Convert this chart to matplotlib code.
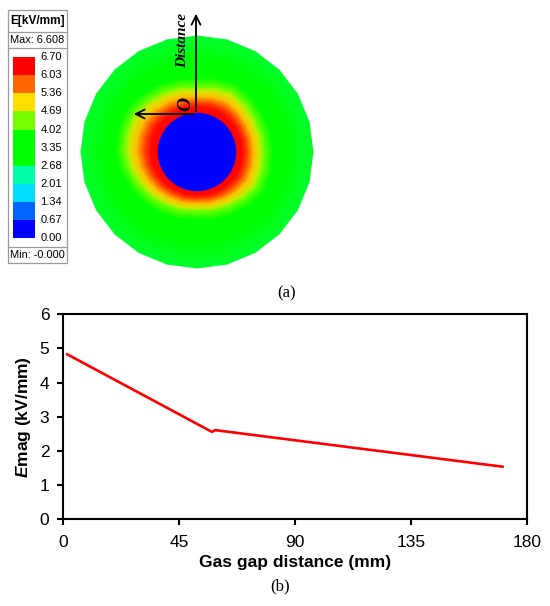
import numpy as np
import matplotlib
matplotlib.use("Agg")
from matplotlib import pyplot as plt
from matplotlib.colors import LinearSegmentedColormap, Normalize
from matplotlib.patches import Rectangle, Circle
import matplotlib.tri as mtri

plt.rcParams['font.family'] = ['Liberation Sans', 'DejaVu Sans']
plt.rcParams['mathtext.fontset'] = 'custom'
plt.rcParams['mathtext.rm'] = 'Liberation Sans:bold'
plt.rcParams['mathtext.bf'] = 'Liberation Sans:bold'
plt.rcParams['mathtext.it'] = 'Liberation Sans:italic:bold'
plt.rcParams['mathtext.bfit'] = 'Liberation Sans:italic:bold'

# ---- data (a): field map ----
level_edges = [0.00, 0.67, 1.34, 2.01, 2.68, 3.35, 4.02, 4.69, 5.36, 6.03, 6.70]
level_colors = ['#0000ff', '#0066ff', '#00ddff', '#00ffaa', '#00ff00',
                '#00ff00', '#77ff00', '#ffdd00', '#ff6600', '#ff0000']
e_max_text = "Max: 6.608"
e_min_text = "Min: -0.000"

# hot zone outer radius (px) by direction, degrees counter-clockwise from +x
hot_angle = [0, 30, 60, 90, 120, 150, 180, 210, 240, 270, 300, 330]
hot_radius = [67, 67, 70, 65, 69, 74, 73, 67, 62, 59, 63, 69]
# field along the radius: inner part scaled to hot radius, outer part absolute
inner_frac = [0.0, 0.25, 0.45, 0.65, 0.85, 1.0]
inner_e = [6.6, 6.3, 5.8, 5.2, 4.8, 4.3]
outer_offset = 9
outer_r = [90, 116]
outer_e = [3.5, 3.1, 2.85]

# ---- data (b): line ----
gap_mm = [1.5, 57.7, 59.0, 170.6]
e_mag = [4.83, 2.56, 2.61, 1.54]

fig = plt.figure(figsize=(5.5, 6.06), dpi=100)

# ---------------- (a) ----------------
ax1 = fig.add_axes([0, 1 - 300 / 606, 1, 300 / 606])
ax1.set_xlim(0, 550)
ax1.set_ylim(300, 0)
ax1.axis('off')

cx, cy, r_in = 197, 152, 38.5
centers = [(level_edges[i] + level_edges[i + 1]) / 2 for i in range(10)]
nodes = [(0.0, level_colors[0])] + [(c / 6.7, col) for c, col in zip(centers, level_colors)] + [(1.0, level_colors[-1])]
cmap = LinearSegmentedColormap.from_list('emag', nodes)
norm = Normalize(0, 6.7)

n_ang = 24
ang = np.arange(n_ang) * 360.0 / n_ang
r_hot = np.interp(ang, hot_angle + [360], hot_radius + [hot_radius[0]])
rings_r = []
rings_e = []
for f, e in zip(inner_frac, inner_e):
    rings_r.append(r_in + f * (r_hot - r_in))
    rings_e.append(e)
rings_r.append(r_hot + outer_offset)
rings_e.append(outer_e[0])
for rr, e in zip(outer_r, outer_e[1:]):
    rings_r.append(np.full(n_ang, float(rr)))
    rings_e.append(e)

px, py, pz = [], [], []
for rr, e in zip(rings_r, rings_e):
    px.extend(cx + rr * np.cos(np.radians(ang)))
    py.extend(cy - rr * np.sin(np.radians(ang)))
    pz.extend([e] * n_ang)
tris = []
for i in range(len(rings_r) - 1):
    for j in range(n_ang):
        a = i * n_ang + j
        b = i * n_ang + (j + 1) % n_ang
        c = (i + 1) * n_ang + j
        d = (i + 1) * n_ang + (j + 1) % n_ang
        tris.append([a, b, d])
        tris.append([a, d, c])
tri = mtri.Triangulation(px, py, tris)
ax1.tripcolor(tri, pz, cmap=cmap, norm=norm, shading='gouraud')
ax1.add_patch(Circle((cx, cy), r_in, color='#0000ff', zorder=3))

# axes arrows
ox, oy = 196, 114
ax1.annotate('', xy=(ox, 11), xytext=(ox, oy),
             arrowprops=dict(arrowstyle='->', lw=1.3, color='black', mutation_scale=16), zorder=5)
ax1.annotate('', xy=(131, oy), xytext=(ox, oy),
             arrowprops=dict(arrowstyle='->', lw=1.3, color='black', mutation_scale=16), zorder=5)
ax1.text(183, 40, 'Distance', rotation=90, ha='center', va='center', fontsize=11,
         family='Liberation Serif', style='italic', weight='bold', zorder=6)
ax1.text(186, 104, 'O', rotation=90, ha='center', va='center', fontsize=14,
         family='Liberation Serif', style='italic', weight='bold', zorder=6)

# legend box
ax1.add_patch(Rectangle((8, 10), 59, 253, fill=False, ec='#9a9a9a', lw=0.9))
for yy in [32, 48, 247]:
    ax1.plot([8, 67], [yy, yy], color='#9a9a9a', lw=0.9)
ax1.text(37.5, 21, 'E[kV/mm]', ha='center', va='center', fontsize=8.6, weight='bold')
ax1.text(37.5, 40, e_max_text, ha='center', va='center', fontsize=7.9)
ax1.text(37.5, 255.5, e_min_text, ha='center', va='center', fontsize=7.9)
y_bot, y_top = 238.3, 57.0
step = (y_bot - y_top) / 10
for i, col in enumerate(level_colors):
    ax1.add_patch(Rectangle((12.7, y_bot - (i + 1) * step), 22.3, step, color=col, lw=0))
for i, v in enumerate(level_edges):
    ax1.text(40.5, y_bot - i * step, '%.2f' % v, ha='left', va='center', fontsize=8)

ax1.text(287, 293, '(a)', ha='center', va='center', fontsize=12, family='Liberation Serif')

# ---------------- (b) ----------------
ax2 = fig.add_axes([63.3 / 550, 1 - 519.3 / 606, 463.4 / 550, 205 / 606])
ax2.plot(gap_mm, e_mag, color='#ff0000', lw=1.9)
ax2.set_xlim(0, 180)
ax2.set_ylim(0, 6)
ax2.set_xticks([0, 45, 90, 135, 180])
ax2.set_yticks([0, 1, 2, 3, 4, 5, 6])
for s in ax2.spines.values():
    s.set_linewidth(1.5)
ax2.tick_params(direction='out', length=4, width=1.5, labelsize=12.5)
ax2.tick_params(axis='x', pad=7)
ax2.tick_params(axis='y', pad=6)
ax2.set_xlabel('Gas gap distance (mm)', fontsize=12.5, weight='bold', labelpad=4)
ax2.set_ylabel(r'$\mathbfit{E}$mag (kV/mm)', fontsize=12.5, weight='bold', labelpad=5)
fig.text(280 / 550, 1 - 586 / 606, '(b)', ha='center', va='center', fontsize=12, family='Liberation Serif')

fig.savefig('out.png', dpi=100)
